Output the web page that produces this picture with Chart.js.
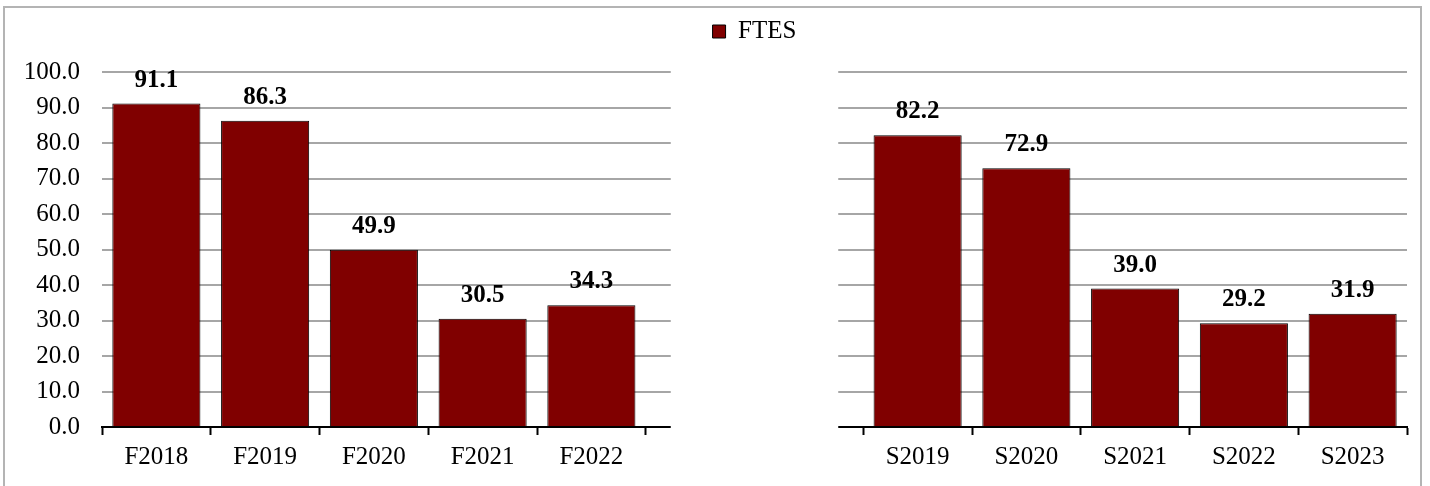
<!DOCTYPE html>
<html>
<head>
<meta charset="utf-8">
<script src="https://cdn.jsdelivr.net/npm/chart.js@4.4.1/dist/chart.umd.min.js"></script>
<style>
  body { margin: 0; background: #fff; }
  .frame { position: absolute; left: 3px; top: 6px; width: 1415px; height: 520px; border: 2px solid #b4b4b4; }
  .wrap { position: absolute; left: 0; top: 0; width: 1430px; height: 486px; }
</style>
</head>
<body>
<div class="frame"></div>
<div class="wrap"><canvas id="ftesChart"></canvas></div>
<script>
// fall terms on the left, spring terms on the right
const fallLabels = ["F2018", "F2019", "F2020", "F2021", "F2022"];
const fallFtes = [91.1, 86.3, 49.9, 30.5, 34.3];
const springLabels = ["S2019", "S2020", "S2021", "S2022", "S2023"];
const springFtes = [82.2, 72.9, 39.0, 29.2, 31.9];
const gapLabels = ["", ""];
const yTicks = [0, 10, 20, 30, 40, 50, 60, 70, 80, 90, 100];

const barColor = "#800000";
const fontSize = 25;
Chart.defaults.font.family = "'Liberation Serif', 'Times New Roman', serif";
Chart.defaults.color = "#000";

const labels = [...fallLabels, ...gapLabels, ...springLabels];
const values = [...fallFtes, ...gapLabels.map(() => null), ...springFtes];

// extra room under the legend
const legendGap = {
  id: "legendGap",
  beforeLayout(chart) {
    const lg = chart.legend;
    if (lg && !lg._gapPatched) {
      const fit = lg.fit;
      lg.fit = function () {
        fit.call(this);
        this.height += 18;
      };
      lg._gapPatched = true;
    }
  },
};

// bold value above each bar
const valueLabels = {
  id: "valueLabels",
  afterDatasetsDraw(chart) {
    const ctx = chart.ctx;
    const meta = chart.getDatasetMeta(0);
    ctx.save();
    ctx.font = "bold " + fontSize + "px 'Liberation Serif', 'Times New Roman', serif";
    ctx.fillStyle = "#000";
    ctx.textAlign = "center";
    ctx.textBaseline = "alphabetic";
    meta.data.forEach((bar, i) => {
      const v = chart.data.datasets[0].data[i];
      if (v === null) return;
      ctx.fillText(v.toFixed(1), bar.x, bar.y - 17);
    });
    ctx.restore();
  },
};

// white block between the two halves (hides grid + axis there)
const splitGap = {
  id: "splitGap",
  afterDraw(chart) {
    const x = chart.scales.x;
    const area = chart.chartArea;
    const w = x.getPixelForValue(1) - x.getPixelForValue(0);
    const a = x.getPixelForValue(fallLabels.length) - 0.27 * w;
    const b = x.getPixelForValue(fallLabels.length + gapLabels.length - 1) + 0.27 * w;
    const ctx = chart.ctx;
    ctx.save();
    ctx.fillStyle = "#fff";
    ctx.fillRect(a, area.top - 3, b - a, area.bottom - area.top + 16);
    ctx.restore();
  },
};

const ctx = document.getElementById("ftesChart").getContext("2d");
const ftesChart = new Chart(ctx, {
  type: "bar",
  data: {
    labels: labels,
    datasets: [
      {
        label: "FTES",
        data: values,
        backgroundColor: barColor,
        borderColor: "#000",
        borderWidth: 1,
        categoryPercentage: 1,
        barPercentage: 0.81,
      },
    ],
  },
  options: {
    responsive: true,
    maintainAspectRatio: false,
    animation: false,
    layout: { padding: { top: 1, right: 23, bottom: 0, left: 0 } },
    plugins: {
      legend: {
        position: "top",
        fullSize: false,
        labels: {
          boxWidth: 13,
          boxHeight: 13,
          padding: 18,
          font: { size: fontSize },
          color: "#000",
        },
      },
      tooltip: { enabled: false },
    },
    scales: {
      x: {
        grid: {
          offset: true,
          drawOnChartArea: false,
          drawTicks: true,
          tickLength: 8,
          tickWidth: 2,
          tickColor: "#000",
        },
        border: { display: true, color: "#000", width: 2 },
        ticks: { font: { size: fontSize }, color: "#000", padding: 7, maxRotation: 0, autoSkip: false },
        afterFit(scale) { scale.height = 59; },
      },
      y: {
        min: yTicks[0],
        max: yTicks[yTicks.length - 1],
        afterBuildTicks(scale) { scale.ticks = yTicks.map((v) => ({ value: v })); },
        grid: { color: "#a6a6a6", lineWidth: 2, drawTicks: false },
        border: { display: false },
        ticks: {
          font: { size: fontSize },
          color: "#000",
          padding: 22,
          callback: (v) => Number(v).toFixed(1),
        },
        afterFit(scale) { scale.width = 102; },
      },
    },
  },
  plugins: [legendGap, valueLabels, splitGap],
});
</script>
</body>
</html>
